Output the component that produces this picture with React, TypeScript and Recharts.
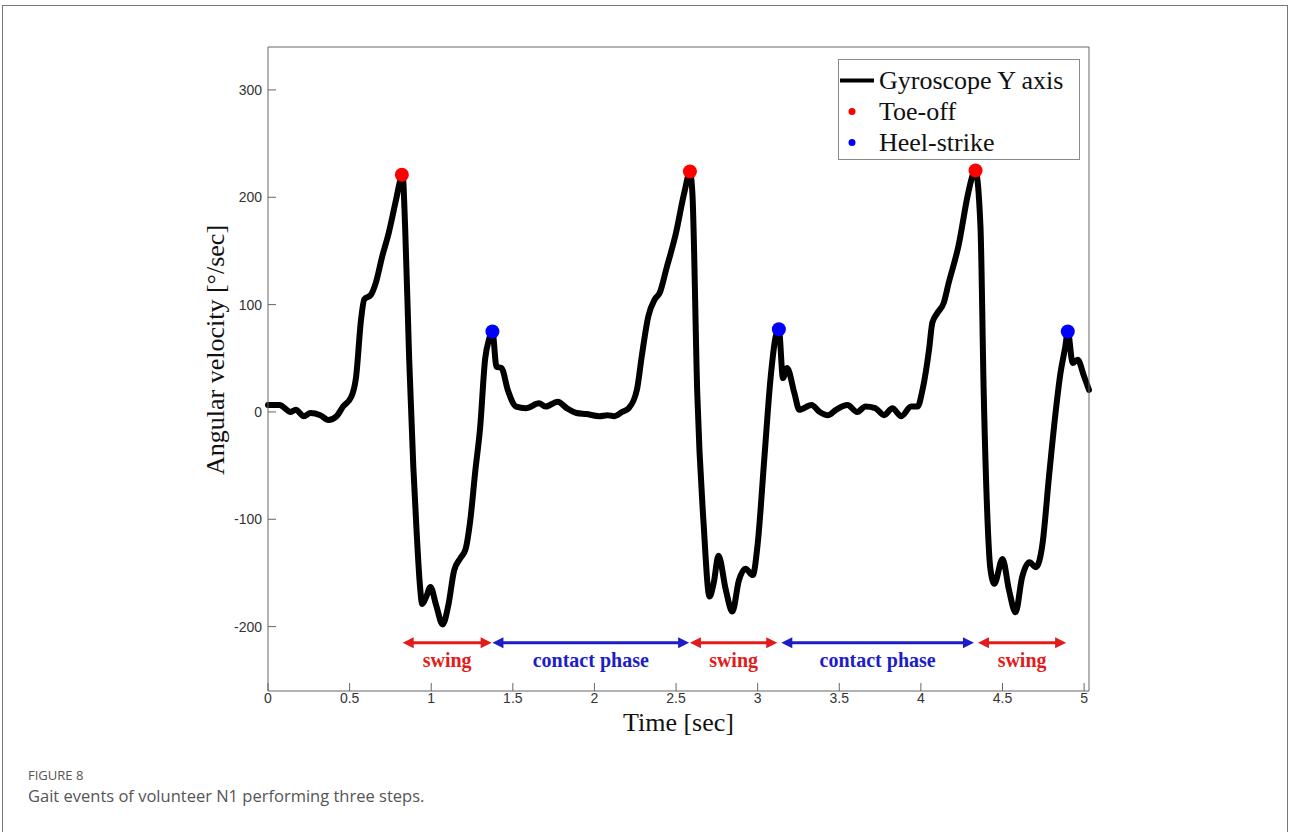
import React from "react";
import { ComposedChart, Line, Scatter, XAxis, YAxis, ReferenceLine, Legend } from "recharts";

// gyroscope Y-axis trace (time in s, angular velocity in °/s)
const time = [
  0, 0.07, 0.14, 0.17, 0.22, 0.26, 0.32, 0.37, 0.42, 0.46,
  0.51, 0.54, 0.57, 0.59, 0.63, 0.66, 0.7, 0.74, 0.785, 0.815,
  0.825, 0.84, 0.865, 0.89, 0.91, 0.93, 0.945, 0.97, 0.995, 1.03,
  1.07, 1.105, 1.14, 1.18, 1.21, 1.24, 1.27, 1.3, 1.33, 1.355,
  1.375, 1.4, 1.43, 1.47, 1.52, 1.58, 1.66, 1.7, 1.775, 1.83,
  1.89, 1.95, 2.03, 2.08, 2.12, 2.17, 2.21, 2.26, 2.29, 2.33,
  2.37, 2.4, 2.44, 2.5, 2.55, 2.585, 2.6, 2.63, 2.67, 2.705,
  2.73, 2.76, 2.805, 2.845, 2.885, 2.925, 2.97, 3.0, 3.04, 3.08,
  3.11, 3.13, 3.155, 3.18, 3.225, 3.255, 3.33, 3.38, 3.43, 3.48,
  3.55, 3.61, 3.66, 3.72, 3.775, 3.825, 3.88, 3.94, 3.98, 4.01,
  4.05, 4.07, 4.1, 4.14, 4.17, 4.23, 4.29, 4.32, 4.335, 4.365,
  4.385, 4.41, 4.425, 4.45, 4.5, 4.54, 4.58, 4.62, 4.665, 4.705,
  4.745, 4.785, 4.825, 4.855, 4.885, 4.9, 4.93, 4.96, 5.0, 5.03,
];
const gyroY = [
  6.5, 6.5, 0, 2, -4, -1, -3, -7.5, -4, 5,
  14, 33, 86, 105, 109, 120, 145, 167, 198, 218,
  220, 173, 49, -50, -110, -160, -179, -172, -163, -180,
  -198, -180, -148, -136, -128, -100, -55, -14, 49, 68,
  75, 42, 41, 20, 5, 3.5, 8, 5, 9.6, 3.5,
  -1, -2, -4, -3, -4, 0, 3.5, 20.5, 52, 89,
  105, 111, 133, 167, 204, 223, 204, 17, -107, -172,
  -160, -134, -166, -186, -157, -146, -152, -123, -45, 33,
  70, 77, 31.5, 41, 17.5, 2, 6.5, 0, -3, 2,
  6.5, 0, 5, 3.5, -3, 3.5, -4, 5, 5, 20.5,
  58, 83, 92, 101.6, 120, 154.5, 204, 221.5, 224, 173,
  17.5, -107, -145, -160, -137, -166, -186.6, -154, -140, -144.6,
  -123, -60, -1, 36, 61, 75, 45.5, 48.6, 33, 20.5,
];

const toeOffTime = [0.82, 2.585, 4.335];
const toeOffVel = [221, 224, 225];
const heelStrikeTime = [1.375, 3.13, 4.9];
const heelStrikeVel = [75, 77, 75];

const phaseStart = [0.825, 1.375, 2.585, 3.145, 4.35];
const phaseEnd = [1.37, 2.58, 3.12, 4.325, 4.89];
const phaseName = ["swing", "contact phase", "swing", "contact phase", "swing"];
const phaseLevel = -215;

const xTicks = [0, 0.5, 1, 1.5, 2, 2.5, 3, 3.5, 4, 4.5, 5];
const yTicks = [-200, -100, 0, 100, 200, 300];
const legendOrder = ["Gyroscope Y axis", "Toe-off", "Heel-strike"];

const signal = time.map((t, i) => ({ t, v: gyroY[i] }));
const toeOff = toeOffTime.map((t, i) => ({ t, v: toeOffVel[i] }));
const heelStrike = heelStrikeTime.map((t, i) => ({ t, v: heelStrikeVel[i] }));

const SANS = "'Liberation Sans', Arial, Helvetica, sans-serif";
const SERIF = "'Liberation Serif', 'Times New Roman', serif";
const AXIS = "#666";
const RED = "#e31b1b";
const BLUE = "#1d1dc8";

const BottomTick = ({ x, y, payload }: any) => (
  <g>
    <line x1={x} y1={y} x2={x} y2={y - 8} stroke={AXIS} />
    <text x={x} y={y + 12} textAnchor="middle" fontFamily={SANS} fontSize={14} fill="#333">
      {payload.value}
    </text>
  </g>
);
const LeftTick = ({ x, y, payload }: any) => (
  <g>
    <line x1={x} y1={y} x2={x + 8} y2={y} stroke={AXIS} />
    <text x={x - 6} y={y + 5} textAnchor="end" fontFamily={SANS} fontSize={14} fill="#333">
      {payload.value}
    </text>
  </g>
);
const TopTick = ({ x, y }: any) => <line x1={x} y1={y} x2={x} y2={y + 8} stroke={AXIS} />;
const RightTick = ({ x, y }: any) => <line x1={x} y1={y} x2={x - 8} y2={y} stroke={AXIS} />;

function PhaseArrow({ x1, y1, x2, name, color }: any) {
  const h = 11;
  const w = 5.5;
  return (
    <g>
      <line x1={x1 + h - 1} y1={y1} x2={x2 - h + 1} y2={y1} stroke={color} strokeWidth={3} />
      <polygon points={`${x1},${y1} ${x1 + h},${y1 - w} ${x1 + h},${y1 + w}`} fill={color} />
      <polygon points={`${x2},${y1} ${x2 - h},${y1 - w} ${x2 - h},${y1 + w}`} fill={color} />
      <text x={(x1 + x2) / 2} y={y1 + 24} textAnchor="middle" fontFamily={SERIF} fontWeight="bold" fontSize={20} fill={color}>
        {name}
      </text>
    </g>
  );
}

const renderLegend = ({ payload }: any) => {
  const items = [...(payload || [])].sort(
    (a: any, b: any) => legendOrder.indexOf(a.value) - legendOrder.indexOf(b.value)
  );
  return (
    <div
      style={{
        width: 242,
        height: 101,
        boxSizing: "border-box",
        border: "1px solid #8a8a8a",
        background: "#fff",
        paddingTop: 5,
        fontFamily: SERIF,
        fontSize: 26,
        color: "#111",
      }}
    >
      {items.map((item: any) => (
        <div key={item.value} style={{ display: "flex", alignItems: "center", height: 31 }}>
          <svg width={40} height={31} style={{ flex: "none" }}>
            {item.type === "line" ? (
              <line x1={1} x2={35} y1={15.5} y2={15.5} stroke={item.color} strokeWidth={4} />
            ) : (
              <circle cx={13} cy={15.5} r={3.5} fill={item.color} />
            )}
          </svg>
          <span style={{ lineHeight: "31px" }}>{item.value}</span>
        </div>
      ))}
    </div>
  );
};

export default function App() {
  return (
    <div style={{ position: "absolute", left: 0, top: 0, width: 1290, height: 832, background: "#fff", overflow: "hidden" }}>
      <div
        style={{
          position: "absolute",
          left: 2,
          top: 5,
          width: 1286,
          height: 860,
          boxSizing: "border-box",
          border: "1px solid #777",
        }}
      />
      <div style={{ position: "absolute", left: 0, top: 0 }}>
        <ComposedChart width={1290} height={832} margin={{ top: 46, right: 200, bottom: 140, left: 267 }}>
          <XAxis
            xAxisId={0}
            type="number"
            dataKey="t"
            domain={[0, 5.03]}
            ticks={xTicks}
            height={1}
            tickSize={0}
            tickMargin={0}
            tickLine={false}
            axisLine={{ stroke: AXIS }}
            tick={<BottomTick />}
            label={{
              content: ({ viewBox }: any) => (
                <text x={viewBox.x + viewBox.width / 2} y={viewBox.y + 40} textAnchor="middle" fontFamily={SERIF} fontSize={26} fill="#111">
                  Time [sec]
                </text>
              ),
            }}
          />
          <XAxis
            xAxisId="top"
            orientation="top"
            type="number"
            dataKey="t"
            domain={[0, 5.03]}
            ticks={xTicks}
            height={1}
            tickSize={0}
            tickMargin={0}
            tickLine={false}
            axisLine={{ stroke: AXIS }}
            tick={<TopTick />}
          />
          <YAxis
            yAxisId={0}
            type="number"
            domain={[-260, 340]}
            ticks={yTicks}
            width={1}
            tickSize={0}
            tickMargin={0}
            tickLine={false}
            axisLine={{ stroke: AXIS }}
            tick={<LeftTick />}
            label={{
              content: ({ viewBox }: any) => (
                <text
                  transform={`translate(${viewBox.x + viewBox.width - 53}, ${viewBox.y + viewBox.height / 2 - 19}) rotate(-90)`}
                  textAnchor="middle"
                  dominantBaseline="central"
                  fontFamily={SERIF}
                  fontSize={26}
                  fill="#111"
                >
                  Angular velocity [°/sec]
                </text>
              ),
            }}
          />
          <YAxis
            yAxisId="right"
            orientation="right"
            type="number"
            domain={[-260, 340]}
            ticks={yTicks}
            width={1}
            tickSize={0}
            tickMargin={0}
            tickLine={false}
            axisLine={{ stroke: AXIS }}
            tick={<RightTick />}
          />
          <Legend
            layout="vertical"
            align="center"
            verticalAlign="middle"
            content={renderLegend}
            wrapperStyle={{ left: 838, top: 59, width: 242, height: 101 }}
          />
          <Line
            data={signal}
            dataKey="v"
            name="Gyroscope Y axis"
            type="monotone"
            stroke="#000"
            strokeWidth={6}
            strokeLinejoin="round"
            strokeLinecap="round"
            dot={false}
            activeDot={false}
            legendType="line"
            isAnimationActive={false}
          />
          <Scatter
            data={toeOff}
            dataKey="v"
            name="Toe-off"
            fill="#ff0000"
            legendType="circle"
            shape={(p: any) => <circle cx={p.cx} cy={p.cy} r={7} fill="#ff0000" />}
            isAnimationActive={false}
          />
          <Scatter
            data={heelStrike}
            dataKey="v"
            name="Heel-strike"
            fill="#0000ff"
            legendType="circle"
            shape={(p: any) => <circle cx={p.cx} cy={p.cy} r={7} fill="#0000ff" />}
            isAnimationActive={false}
          />
          {phaseName.map((name, i) => (
            <ReferenceLine
              key={i}
              segment={[
                { x: phaseStart[i], y: phaseLevel },
                { x: phaseEnd[i], y: phaseLevel },
              ]}
              shape={(p: any) => <PhaseArrow {...p} name={name} color={name === "swing" ? RED : BLUE} />}
            />
          ))}
        </ComposedChart>
      </div>
      <div style={{ position: "absolute", left: 28, top: 766, fontFamily: "'Open Sans', sans-serif", fontSize: 13, color: "#555" }}>
        FIGURE 8
      </div>
      <div style={{ position: "absolute", left: 28, top: 784, fontFamily: "'Open Sans', sans-serif", fontSize: 16.5, color: "#555" }}>
        Gait events of volunteer N1 performing three steps.
      </div>
    </div>
  );
}
